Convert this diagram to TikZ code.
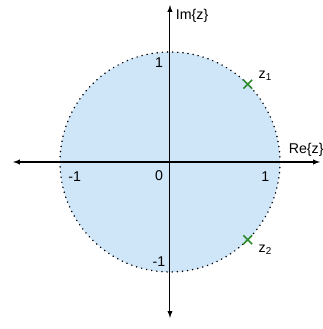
\documentclass[tikz,border=0pt]{standalone}
\usepackage{fontspec}
\setmainfont{Liberation Sans}
\definecolor{discblue}{HTML}{CFE5F8}
\definecolor{rootgreen}{HTML}{2E8B2E}
\tikzset{
  axis/.style={thick,-latex},
  lbl/.style={font=\fontsize{11}{13}\selectfont,inner sep=1pt},
  root/.style={rootgreen,very thick}
}
\begin{document}
\begin{tikzpicture}
\useasboundingbox (-4.636,-4.555) rectangle (4.173,4.418);
% unit disc
\fill[discblue] (0,0) circle (3);
\draw[line width=1.3pt,line cap=round,dash pattern=on 0pt off 4pt] (0,0) circle (3);
% axes
\draw[axis] (-0.05,0) -- (4.09,0);
\draw[axis] (0.05,0) -- (-4.28,0);
\draw[axis] (0,-0.05) -- (0,4.28);
\draw[axis] (0,0.05) -- (0,-4.25);
\node[lbl,anchor=west] (im) at (0.12,3.98) {Im\{z\}};
\node[lbl,anchor=south west] (re) at (3.2,0.1) {Re\{z\}};
% ticks
\node[lbl] (zero) at (-0.3,-0.38) {0};
\node[lbl] (one) at (2.6,-0.4) {1};
\node[lbl] (mone) at (-2.6,-0.4) {-1};
\node[lbl] (ione) at (-0.3,2.7) {1};
\node[lbl] (imone) at (-0.3,-2.72) {-1};
% roots
\foreach \a/\n in {45/1,-45/2} {
  \draw[root] (\a:3) ++(-0.12,-0.12) -- ++(0.24,0.24) ++(-0.24,0) -- ++(0.24,-0.24);
}
\node[lbl] (z1) at (2.6,2.35) {z\textsubscript{1}};
\node[lbl] (z2) at (2.6,-2.4) {z\textsubscript{2}};
\end{tikzpicture}
\end{document}
